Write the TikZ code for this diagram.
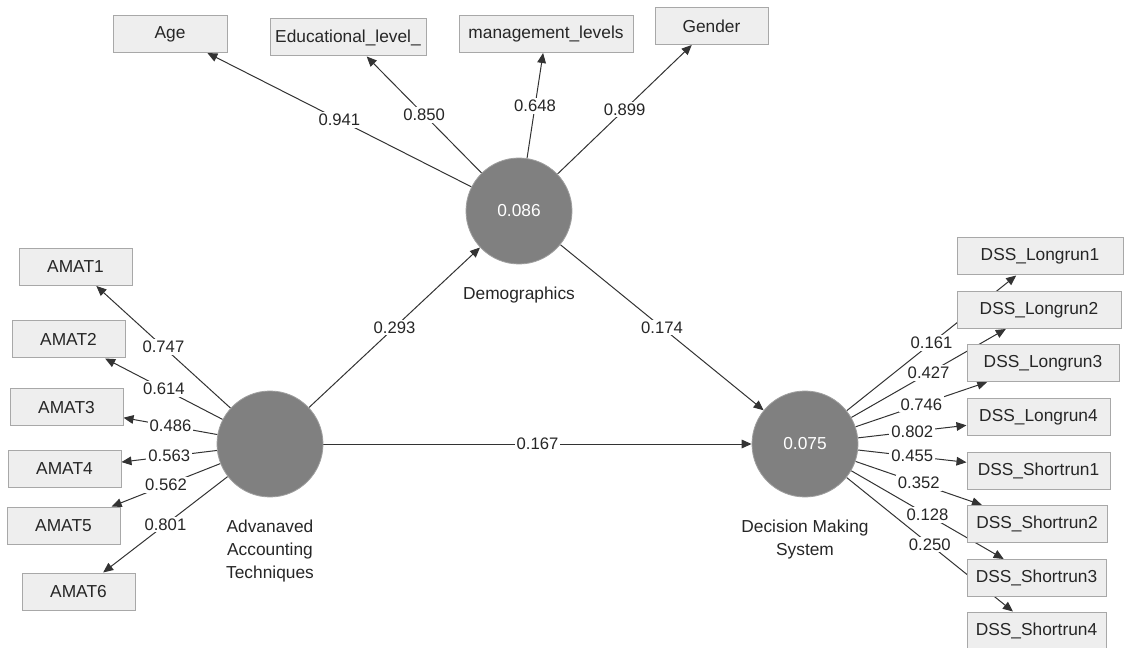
\documentclass[tikz,border=0pt]{standalone}
\usepackage{fontspec}
\setmainfont{Liberation Sans}
\usetikzlibrary{arrows.meta,backgrounds}
\definecolor{latent}{RGB}{128,128,128}
\definecolor{indfill}{RGB}{238,238,238}
\definecolor{indline}{RGB}{168,168,168}
\begin{document}
\begin{tikzpicture}
    [   x=0.75pt,y=-0.75pt,
        font=\fontsize{13}{17.25}\selectfont,
        cnode/.style={circle,fill=latent,draw=latent!75!white,line width=0.6pt,minimum size=79.5pt,inner sep=0pt,text=white},
        vname/.style={align=center,inner sep=0pt,text=black!85},
        ind/.style={rectangle,fill=indfill,draw=indline,line width=0.75pt,minimum height=27.75pt,minimum width=#1*0.75pt,inner sep=1pt,text=black!85},
        path/.style={draw=black!80,line width=0.75pt,-{Triangle[length=7.5pt,width=6.5pt]}},
        wlabel/.style={fill=white,inner sep=1.5pt,text=black!85,font=\fontsize{12.5}{15}\selectfont},
        label distance=16.5pt,
    ]
        \useasboundingbox (0,0) rectangle (1128,648);
        \node[cnode,label={[vname]below:Demographics}] (dem) at (519,211) {0.086};
        \node[cnode,label={[vname]below:{Advanaved\\Accounting\\Techniques}}] (aat) at (270,444) {};
        \node[cnode,label={[vname]below:{Decision Making\\System}}] (dms) at (805,444) {0.075};
        \node[ind=114] (age) at (170,34) {Age};
        \node[ind=156] (edu) at (348,37.5) {Educational\_level\_};
        \node[ind=174] (mgt) at (546,34) {management\_levels};
        \node[ind=113] (gen) at (711.5,26) {Gender};
        \foreach \i/\x/\y in {1/75.5/267,2/68.5/339.5,3/66.5/407.5,4/64.5/469,5/63.5/525.5,6/78.5/591.5}
        {   \node[ind=113] (amat\i) at (\x,\y) {AMAT\i};
        }
        \foreach \i/\x/\y/\w in {1/1040/256.5/166,2/1039/310/164,3/1043/363/152,4/1038.5/417/143}
        {   \node[ind=\w] (lr\i) at (\x,\y) {DSS\_Longrun\i};
        }
        \foreach \i/\x/\y/\w in {1/1038.5/470.5/143,2/1037/524/140,3/1036.5/578/139,4/1036.5/630.5/139}
        {   \node[ind=\w] (sr\i) at (\x,\y) {DSS\_Shortrun\i};
        }
        \begin{scope}[on background layer]
        \foreach \t in {age,edu,mgt,gen}
        {   \draw[path] (dem) -- (\t);
        }
        \foreach \t in {amat1,amat2,amat3,amat4,amat5,amat6}
        {   \draw[path] (aat) -- (\t);
        }
        \foreach \t in {lr1,lr2,lr3,lr4,sr1,sr2,sr3,sr4}
        {   \draw[path] (dms) -- (\t);
        }
        \draw[path] (aat) -- (dem);
        \draw[path] (dem) -- (dms);
        \draw[path] (aat) -- (dms);
        \foreach \t/\v in {age/0.941,edu/0.850,mgt/0.648,gen/0.899}
        {   \path (dem) -- node[wlabel] {\v} (\t);
        }
        \foreach \t/\v in {amat1/0.747,amat2/0.614,amat3/0.486,amat4/0.563,amat5/0.562,amat6/0.801}
        {   \path (aat) -- node[wlabel] {\v} (\t);
        }
        \foreach \t/\v in {lr1/0.161,lr2/0.427,lr3/0.746,lr4/0.802,sr1/0.455,sr2/0.352,sr3/0.128,sr4/0.250}
        {   \path (dms) -- node[wlabel] {\v} (\t);
        }
        \path (aat) -- node[wlabel] {0.293} (dem);
        \path (dem) -- node[wlabel] {0.174} (dms);
        \path (aat) -- node[wlabel] {0.167} (dms);
        \end{scope}
    \end{tikzpicture}
\end{document}
